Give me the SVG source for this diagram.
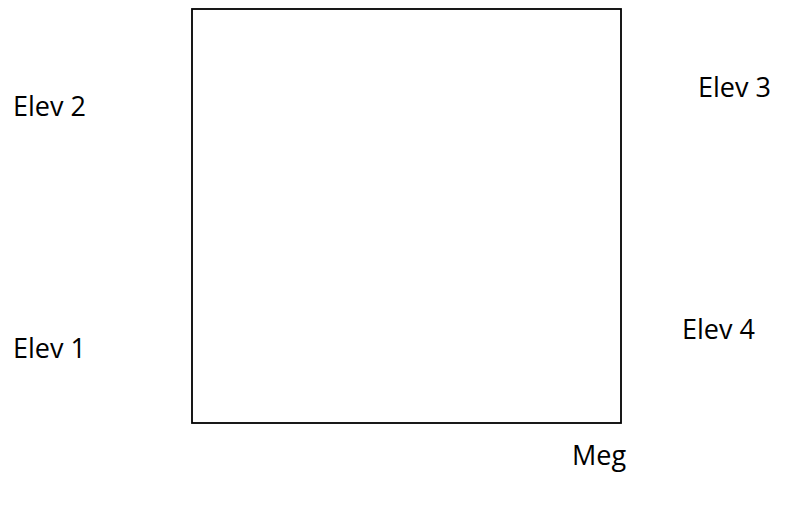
<svg xmlns="http://www.w3.org/2000/svg" width="791" height="522" viewBox="0 0 791 522">
<style>
.t{font-family:"Open Sans","Liberation Sans",sans-serif;font-size:27px;fill:#000}
</style>
<rect x="0" y="0" width="791" height="522" fill="#fff"/>
<g id="box"><rect x="192" y="9" width="429" height="414" fill="#fff" stroke="#000" stroke-width="1.8"/></g>
<g id="elev2"><text class="t" x="13" y="116">Elev 2</text></g>
<g id="elev3"><text class="t" x="698" y="97">Elev 3</text></g>
<g id="elev1"><text class="t" x="13" y="358">Elev 1</text></g>
<g id="elev4"><text class="t" x="682" y="339">Elev 4</text></g>
<g id="meg"><text class="t" x="572" y="465">Meg</text></g>
</svg>
